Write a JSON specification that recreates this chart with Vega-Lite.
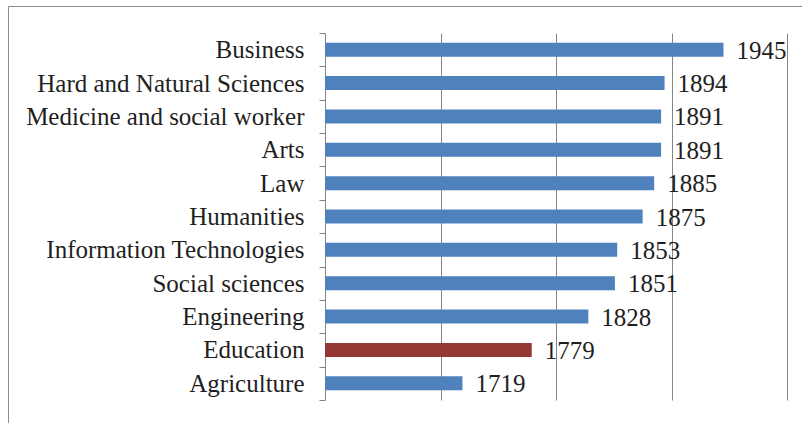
{
  "$schema": "https://vega.github.io/schema/vega-lite/v6.json",
  "width": 800,
  "height": 421,
  "autosize": "none",
  "padding": {"left": 8, "top": 6, "right": 0, "bottom": 0},
  "background": "white",
  "config": {"view": {"stroke": "#8c8c8c", "strokeWidth": 1}, "font": "Liberation Serif"},
  "data": {"values": [
    {"field": "Business", "value": 1945},
    {"field": "Hard and Natural Sciences", "value": 1894},
    {"field": "Medicine and social worker", "value": 1891},
    {"field": "Arts", "value": 1891},
    {"field": "Law", "value": 1885},
    {"field": "Humanities", "value": 1875},
    {"field": "Information Technologies", "value": 1853},
    {"field": "Social sciences", "value": 1851},
    {"field": "Engineering", "value": 1828},
    {"field": "Education", "value": 1779},
    {"field": "Agriculture", "value": 1719}
  ]},
  "encoding": {
    "y": {
      "field": "field", "type": "nominal", "sort": null,
      "scale": {"range": [27, 394], "paddingInner": 0, "paddingOuter": 0},
      "axis": {
        "title": null, "offset": -317, "tickBand": "extent",
        "domainColor": "#868686", "tickColor": "#868686", "tickSize": 6,
        "labelFontSize": 25, "labelFont": "Liberation Serif", "labelColor": "#1f1f1f",
        "labelPadding": 15, "labelLimit": 0, "grid": false
      }
    }
  },
  "layer": [
    {
      "mark": {"type": "bar", "height": {"band": 0.42}},
      "encoding": {
        "x": {
          "field": "value", "type": "quantitative",
          "scale": {"domain": [1600, 2000], "range": [317, 779], "nice": false, "zero": false},
          "axis": {"title": null, "labels": false, "ticks": false, "domain": false, "grid": true, "gridColor": "#868686", "gridOpacity": 1, "values": [1700, 1800, 1900, 2000]}
        },
        "x2": {"datum": 1600},
        "color": {"condition": {"test": "datum.field === 'Education'", "value": "#953735"}, "value": "#4F81BD"}
      }
    },
    {
      "mark": {"type": "text", "align": "left", "dx": 13, "dy": 1, "baseline": "middle", "fontSize": 25, "font": "Liberation Serif", "color": "#1f1f1f"},
      "encoding": {
        "x": {"field": "value", "type": "quantitative"},
        "text": {"field": "value", "type": "quantitative"}
      }
    }
  ]
}
